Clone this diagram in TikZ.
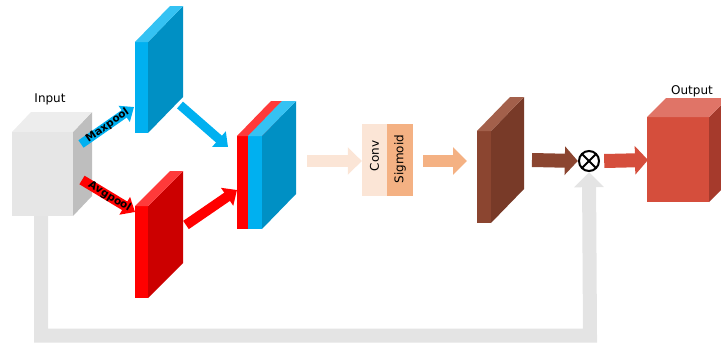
\documentclass[tikz,border=0pt]{standalone}
\usepackage{fontspec}
\setmainfont{DejaVu Sans}
\usetikzlibrary{arrows.meta}
\newcommand\slab[9]{%
  \fill[#7] (#1,#2) rectangle (#1+#3,#2+#4);
  \fill[#8] (#1+#3,#2) -- (#1+#3+#5,#2-#6) -- (#1+#3+#5,#2+#4-#6) -- (#1+#3,#2+#4) -- cycle;
  \fill[#9] (#1,#2) -- (#1+#5,#2-#6) -- (#1+#3+#5,#2-#6) -- (#1+#3,#2) -- cycle;}
\definecolor{blueF}{HTML}{00B0F0}
\definecolor{blueS}{HTML}{0090C4}
\definecolor{blueT}{HTML}{35C2F3}
\definecolor{redF}{HTML}{FF0000}
\definecolor{redS}{HTML}{CC0000}
\definecolor{redT}{HTML}{FF3A3A}
\definecolor{grayF}{HTML}{E6E6E6}
\definecolor{grayS}{HTML}{BEBEBE}
\definecolor{grayT}{HTML}{EDEDED}
\definecolor{skip}{HTML}{E4E4E4}
\definecolor{peachL}{HTML}{FBE5D6}
\definecolor{peachD}{HTML}{F4B183}
\definecolor{brownF}{HTML}{8B4530}
\definecolor{brownS}{HTML}{783A28}
\definecolor{brownT}{HTML}{A3604B}
\definecolor{outF}{HTML}{D54E3C}
\definecolor{outS}{HTML}{A63A2C}
\definecolor{outT}{HTML}{E07467}
\tikzset{
  fat/.style n args={4}{draw=#1, line width=#2pt,
    -{Triangle[length=#4pt, width=#3pt]}},
  lbl/.style={font=\fontsize{12}{14}\selectfont, inner sep=0pt},
  vlbl/.style={font=\fontsize{12}{14}\selectfont, inner sep=0pt, rotate=90},
  plbl/.style={font=\fontsize{10.5}{12}\selectfont\bfseries, inner sep=0pt, sloped},
}
\begin{document}
\begin{tikzpicture}[x=1pt,y=-1pt]
\useasboundingbox (0,0) rectangle (721,343);
% skip connection
\coordinate (skipS) at (41,216);
\coordinate (skipA) at (41,335.5);
\coordinate (skipB) at (590,335.5);
\node[circle, minimum size=22pt, inner sep=0pt] (mul) at (589,161) {};
\draw[skip, line width=14pt, line join=miter,
  -{Triangle[length=15pt, width=29pt]}] (skipS) -- (skipA) -- (skipB) -- (mul.south);
% input cube
\slab{12}{132}{61}{84}{19}{20}{grayF}{grayS}{grayT}
\node[lbl] (inlbl) at (50,99) {Input};
% pooled slabs
\slab{135}{42}{13}{91}{35}{36}{blueF}{blueS}{blueT}
\slab{135}{206}{13}{92}{35}{35}{redF}{redS}{redT}
% concat
\slab{237}{136}{11}{93}{34}{35}{redF}{redS}{redT}
\slab{248}{136}{14}{93}{34}{35}{blueF}{blueS}{blueT}
% pooling arrows
\coordinate (mpS) at (81,144);
\coordinate (mpE) at (134,107);
\coordinate (apS) at (82,180);
\coordinate (apE) at (135,212);
\draw[fat={blueF}{9}{19}{12}] (mpS) -- node[plbl, pos=0.5] {Maxpool} (mpE);
\draw[fat={redF}{10}{20}{12}] (apS) -- node[plbl, pos=0.52] {Avgpool} (apE);
\coordinate (bS) at (180,105);
\coordinate (bE) at (228,147);
\coordinate (rS) at (186,225);
\coordinate (rE) at (237,190);
\draw[fat={blueF}{9}{20}{12}] (bS) -- (bE);
\draw[fat={redF}{10}{21}{12}] (rS) -- (rE);
% conv / sigmoid
\node[fill=peachL, minimum width=25pt, minimum height=72pt, inner sep=0pt] (conv) at (374.5,160) {};
\node[fill=peachD, minimum width=26pt, minimum height=72pt, inner sep=0pt] (sig) at (400,160) {};
\node[vlbl] at ([yshift=4pt]conv.center) {Conv};
\node[vlbl] at ([yshift=1pt]sig.center) {Sigmoid};
\coordinate (a1S) at (307,161);
\draw[fat={peachL}{12}{27}{14}] (a1S) -- (conv.west |- a1S);
\coordinate (a2E) at (467,161);
\draw[fat={peachD}{12}{27}{14}] (sig.east |- a2E) ++(10,0) -- (a2E);
% brown slab
\slab{477}{131}{14}{92}{33}{34}{brownF}{brownS}{brownT}
\coordinate (a3S) at (532,160);
\draw[fat={brownF}{14}{28}{13}] (a3S) -- (mul.west);
% multiply
\draw[line width=2pt] (mul) circle (10pt);
\draw[line width=2pt] (mul.center) ++(45:10pt) -- ++(225:20pt);
\draw[line width=2pt] (mul.center) ++(135:10pt) -- ++(-45:20pt);
% output cube
\slab{647}{117}{62}{85}{19}{19}{outF}{outS}{outT}
\coordinate (a4E) at (648,160);
\draw[fat={outF}{14}{28}{13}] (mul.east) ++(4,0) -- (a4E);
\node[lbl] (outlbl) at (692,91) {Output};
\end{tikzpicture}
\end{document}
